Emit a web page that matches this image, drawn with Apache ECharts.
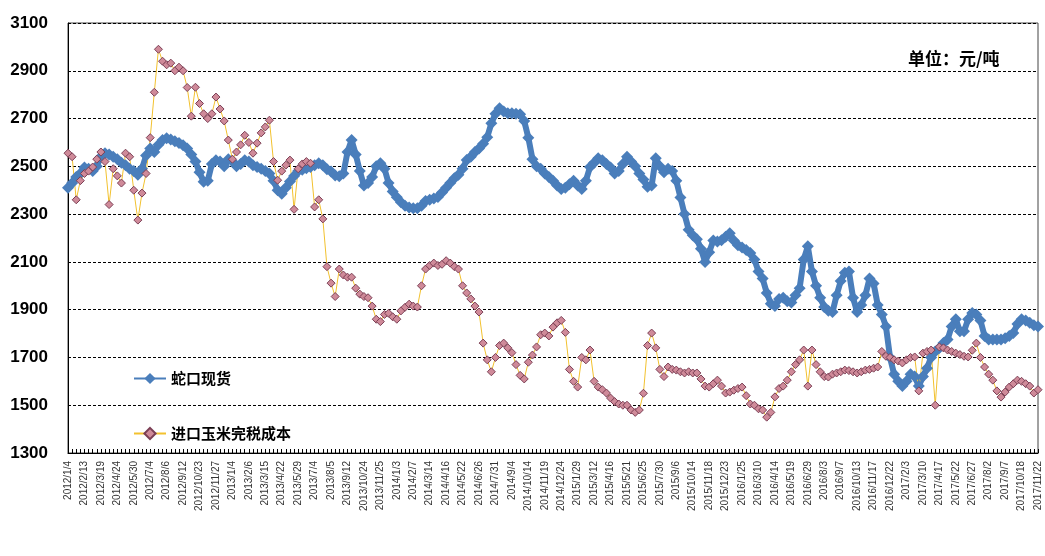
<!DOCTYPE html>
<html>
<head>
<meta charset="utf-8">
<script src="https://cdn.jsdelivr.net/npm/echarts@6/dist/echarts.min.js"></script>
<style>
  html, body { margin: 0; padding: 0; background: #fff; }
  #lineChart { width: 1045px; height: 556px; }
</style>
</head>
<body>
<div id="lineChart"></div>
<script>
// x轴标签（每4个点一个标签）
var tickLabels = ['2012/1/4','2012/2/13','2012/3/19','2012/4/24','2012/5/30','2012/7/4','2012/8/6','2012/9/12','2012/10/23','2012/11/27',
  '2013/1/4','2013/2/6','2013/3/15','2013/4/22','2013/5/29','2013/7/4','2013/8/5','2013/9/12','2013/10/24','2013/11/25',
  '2014/1/3','2014/2/7','2014/3/14','2014/4/16','2014/5/22','2014/6/26','2014/7/31','2014/9/4','2014/10/14','2014/11/19','2014/12/24',
  '2015/1/29','2015/3/12','2015/4/16','2015/5/21','2015/6/25','2015/7/30','2015/9/6','2015/10/14','2015/11/18','2015/12/23',
  '2016/1/25','2016/3/10','2016/4/14','2016/5/19','2016/6/29','2016/8/3','2016/9/7','2016/10/13','2016/11/17','2016/12/22',
  '2017/2/3','2017/3/10','2017/4/17','2017/5/22','2017/6/27','2017/8/2','2017/9/7','2017/10/18','2017/11/22'];
var pointsPerLabel = 4;

var seriesNames = ['蛇口现货', '进口玉米完税成本'];

// 蛇口现货
var shekouSpot = [
  2410,2430,2455,2470,2495,2490,2480,2500,2540,2555,2550,2540,
  2530,2515,2505,2490,2480,2465,2490,2545,2575,2560,2590,2610,
  2618,2612,2605,2598,2588,2575,2550,2520,2475,2435,2440,2510,
  2525,2520,2500,2530,2520,2500,2510,2525,2520,2505,2497,2490,
  2480,2470,2440,2400,2385,2410,2436,2460,2480,2486,2492,2497,
  2505,2513,2505,2488,2478,2462,2458,2470,2560,2610,2550,2480,
  2420,2430,2455,2500,2513,2490,2430,2395,2371,2350,2335,2328,
  2325,2325,2335,2355,2360,2365,2372,2390,2410,2430,2450,2465,
  2490,2526,2540,2560,2575,2595,2622,2680,2720,2743,2730,2722,
  2722,2720,2718,2690,2620,2530,2500,2490,2470,2455,2440,2420,
  2405,2410,2425,2440,2420,2405,2440,2497,2515,2534,2525,2510,
  2495,2470,2480,2510,2540,2520,2500,2470,2445,2415,2420,2534,
  2500,2475,2490,2480,2440,2370,2300,2235,2212,2195,2155,2100,
  2140,2190,2185,2191,2205,2220,2190,2170,2160,2150,2137,2110,
  2060,2030,1970,1925,1915,1945,1950,1935,1930,1960,1990,2110,
  2165,2060,2000,1950,1911,1895,1890,1960,2020,2055,2060,1950,
  1890,1920,1960,2030,2010,1920,1880,1830,1700,1630,1600,1580,
  1600,1630,1620,1580,1620,1655,1700,1725,1740,1760,1775,1830,
  1860,1810,1810,1860,1886,1880,1855,1790,1775,1775,1775,1775,
  1780,1790,1802,1840,1860,1855,1845,1835,1830
];

// 进口玉米完税成本
var importCost = [
  2555,2540,2360,2440,2470,2480,2497,2530,2560,2520,2340,2490,
  2460,2430,2555,2540,2400,2275,2388,2470,2620,2810,2990,2940,
  2925,2932,2900,2915,2900,2830,2710,2831,2763,2720,2700,2720,
  2790,2740,2690,2610,2530,2560,2590,2630,2600,2555,2597,2640,
  2665,2693,2520,2442,2480,2505,2526,2320,2490,2510,2520,2513,
  2330,2360,2280,2080,2011,1955,2070,2045,2036,2036,1990,1965,
  1955,1950,1915,1860,1850,1880,1885,1870,1860,1895,1910,1923,
  1915,1911,2000,2070,2085,2095,2085,2090,2105,2095,2080,2070,
  2000,1970,1945,1915,1890,1760,1690,1640,1700,1750,1760,1740,
  1720,1670,1625,1610,1680,1710,1744,1795,1802,1790,1827,1845,
  1855,1805,1650,1600,1576,1700,1690,1731,1600,1576,1565,1551,
  1530,1515,1505,1500,1500,1480,1470,1480,1550,1750,1802,1740,
  1650,1620,1660,1650,1647,1640,1635,1640,1635,1635,1610,1580,
  1576,1590,1605,1580,1551,1555,1563,1570,1576,1540,1505,1500,
  1485,1480,1450,1470,1535,1570,1580,1605,1640,1670,1690,1731,
  1580,1731,1670,1640,1620,1618,1630,1635,1640,1647,1645,1640,
  1635,1640,1647,1650,1655,1660,1725,1705,1700,1690,1685,1677,
  1690,1700,1702,1560,1718,1725,1731,1500,1744,1740,1731,1725,
  1718,1712,1705,1702,1730,1760,1700,1660,1630,1605,1560,1534,
  1555,1576,1590,1605,1600,1590,1580,1551,1565
];

// 类目：标签之间用空位补齐
var categories = [];
for (var k = 0; k < tickLabels.length; k++) {
  categories.push(tickLabels[k]);
  if (k < tickLabels.length - 1) {
    for (var j = 1; j < pointsPerLabel; j++) categories.push('');
  }
}

var chart = echarts.init(document.getElementById('lineChart'));
chart.setOption({
  animation: false,
  textStyle: { fontFamily: 'Liberation Sans, Arial, Noto Sans CJK SC, sans-serif' },
  title: {
    text: '单位：元/吨',
    left: 903,
    top: 45,
    textStyle: { fontSize: 17, fontWeight: 'bold', color: '#000', fontFamily: 'Noto Sans CJK SC' }
  },
  grid: {
    left: 68,
    right: 7,
    top: 23,
    bottom: 103,
    show: true,
    borderColor: '#444',
    borderWidth: 1
  },
  legend: {
    orient: 'vertical',
    left: 128,
    top: 366,
    itemWidth: 32,
    itemHeight: 14,
    itemGap: 40,
    textStyle: { fontSize: 15, fontWeight: 'bold', color: '#000', fontFamily: 'Noto Sans CJK SC' },
    data: seriesNames
  },
  xAxis: {
    type: 'category',
    boundaryGap: false,
    data: categories,
    axisLine: { lineStyle: { color: '#000', width: 1 } },
    axisTick: { show: true, inside: true, interval: 0, length: 4, lineStyle: { color: '#000' } },
    axisLabel: {
      interval: pointsPerLabel - 1,
      rotate: 90,
      fontSize: 10,
      color: '#333',
      margin: 8
    },
    splitLine: { show: false }
  },
  yAxis: {
    type: 'value',
    min: 1300,
    max: 3100,
    interval: 200,
    axisLine: { show: true, lineStyle: { color: '#000' } },
    axisTick: { show: false },
    axisLabel: {
      fontSize: 17,
      fontWeight: 'bold',
      color: '#000',
      margin: 20,
      formatter: function (value) {
        return value + '';
      }
    },
    splitLine: { show: true, lineStyle: { color: '#000', type: [3, 2], width: 1 } }
  },
  series: [
    {
      name: seriesNames[0],
      type: 'line',
      data: shekouSpot,
      showAllSymbol: true,
      symbol: 'diamond',
      symbolSize: 12,
      itemStyle: { color: '#4A7EBB' },
      lineStyle: { color: '#4A7EBB', width: 6 }
    },
    {
      name: seriesNames[1],
      type: 'line',
      data: importCost,
      showAllSymbol: true,
      symbol: 'diamond',
      symbolSize: 8,
      itemStyle: { color: '#CF8A99', borderColor: '#7B3F55', borderWidth: 1 },
      lineStyle: { color: '#F2C12E', width: 1 }
    }
  ]
});
</script>
</body>
</html>
